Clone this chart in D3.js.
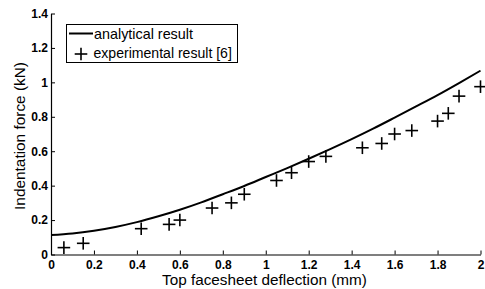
<!DOCTYPE html>
<html><head><meta charset="utf-8">
<script src="https://cdn.jsdelivr.net/npm/d3@7"></script>
<style>body{margin:0;background:#fff}svg{display:block}text{font-family:"Liberation Sans",Arial,sans-serif}</style>
</head><body><svg id="c" width="485" height="289"></svg>
<script>
const xTicks = [0,0.2,0.4,0.6,0.8,1,1.2,1.4,1.6,1.8,2];
const yTicks = [0,0.2,0.4,0.6,0.8,1,1.2,1.4];
const analyticalX = [0,0.1,0.2,0.3,0.4,0.5,0.6,0.7,0.8,0.9,1.0,1.1,1.2,1.3,1.4,1.5,1.6,1.7,1.8,1.9,2.0];
const analyticalY = [0.113,0.122,0.138,0.16,0.188,0.222,0.26,0.303,0.35,0.398,0.45,0.502,0.556,0.612,0.67,0.731,0.795,0.86,0.926,0.996,1.068];
const expX = [0.06,0.15,0.42,0.55,0.6,0.75,0.84,0.9,1.05,1.12,1.2,1.28,1.45,1.54,1.6,1.68,1.8,1.85,1.9,2.0];
const expY = [0.04,0.065,0.15,0.175,0.2,0.27,0.3,0.35,0.43,0.475,0.54,0.57,0.62,0.645,0.7,0.72,0.775,0.82,0.92,0.975];
const seriesNames = ["analytical result","experimental result [6]"];
const xLabel = "Top facesheet deflection (mm)";
const yLabel = "Indentation force (kN)";

const svg = d3.select("#c");
const x = d3.scaleLinear().domain([0,2]).range([51,480.5]);
const y = d3.scaleLinear().domain([0,1.4]).range([254.5,13.5]);

const fmt = d => d===0?"0":(Number.isInteger(d)?String(d):d.toFixed(1));

function fitText(sel, target, base){
  const w = sel.node().getComputedTextLength();
  sel.attr("font-size", base*target/w);
}

const xAx = svg.append("g").attr("transform","translate(0,254.5)")
  .call(d3.axisBottom(x).tickValues(xTicks).tickSizeInner(-4).tickSizeOuter(0).tickPadding(6).tickFormat(fmt));
const yAx = svg.append("g").attr("transform","translate(51,0)")
  .call(d3.axisLeft(y).tickValues(yTicks).tickSizeInner(-4).tickSizeOuter(0).tickPadding(3).tickFormat(fmt));
[xAx,yAx].forEach(g=>{
  g.attr("font-family",null).attr("font-size",null);
  g.selectAll("path").attr("stroke","#000").attr("stroke-width",1.2);
  g.selectAll("line").attr("stroke","#000").attr("stroke-width",1);
  g.selectAll("text").style("font-size","12px").style("font-weight","bold").attr("fill","#000")
   .style("font-family","'Liberation Sans', Arial, sans-serif");
});

const line = d3.line().x((d,i)=>x(analyticalX[i])).y(d=>y(d)).curve(d3.curveMonotoneX);
svg.append("path").datum(analyticalY).attr("d",line).attr("fill","none").attr("stroke","#000").attr("stroke-width",2);

const cs = 6.3;
const crosses = svg.append("g").attr("stroke","#000").attr("stroke-width",1.6);
expX.forEach((xv,i)=>{
  const cx = x(xv), cy = y(expY[i]);
  crosses.append("line").attr("x1",cx-cs).attr("x2",cx+cs).attr("y1",cy).attr("y2",cy);
  crosses.append("line").attr("x1",cx).attr("x2",cx).attr("y1",cy-cs).attr("y2",cy+cs);
});

const xl = svg.append("text").attr("x",264.5).attr("y",284.5).attr("text-anchor","middle").attr("font-size",13).text(xLabel);
fitText(xl, 205, 13);
const yl = svg.append("text").attr("transform","translate(24.5,136) rotate(-90)").attr("text-anchor","middle").attr("font-size",13).text(yLabel);
fitText(yl, 148, 13);

// legend
const lg = svg.append("g");
lg.append("rect").attr("x",66.5).attr("y",24.5).attr("width",171).attr("height",38).attr("fill","#fff").attr("stroke","#000").attr("stroke-width",1);
lg.append("line").attr("x1",69).attr("x2",93).attr("y1",33.5).attr("y2",33.5).attr("stroke","#000").attr("stroke-width",2);
lg.append("line").attr("x1",81-cs).attr("x2",81+cs).attr("y1",54).attr("y2",54).attr("stroke","#000").attr("stroke-width",1.6);
lg.append("line").attr("x1",81).attr("x2",81).attr("y1",54-cs).attr("y2",54+cs).attr("stroke","#000").attr("stroke-width",1.6);
const t1 = lg.append("text").attr("x",94).attr("y",38.5).attr("font-size",13).text(seriesNames[0]);
fitText(t1, 99, 13);
const t2 = lg.append("text").attr("x",93.5).attr("y",58).attr("font-size",13).text(seriesNames[1]);
fitText(t2, 138.5, 13);
</script></body></html>
